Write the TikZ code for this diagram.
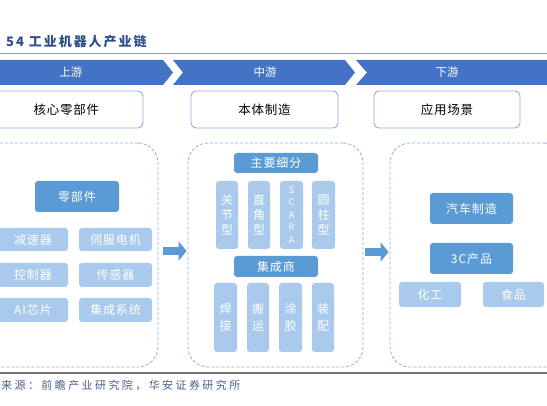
\documentclass[tikz,border=0pt]{standalone}
\usepackage{fontspec}
\setmainfont{Noto Sans CJK SC}
\usetikzlibrary{arrows.meta}
\definecolor{banner}{HTML}{4472C4}
\definecolor{dk}{HTML}{5B9BD5}
\definecolor{lt}{HTML}{A9CAEC}
\definecolor{frame}{HTML}{8FAADC}
\definecolor{titlec}{HTML}{2E4E8A}
\definecolor{srcc}{HTML}{4A5F88}
\tikzset{
  dkbox/.style={fill=dk, rounded corners=3pt, text=white, inner sep=0pt, font=\fontsize{12}{14}\selectfont\addfontfeature{LetterSpace=8}},
  ltbox/.style={fill=lt, rounded corners=3pt, text=white, inner sep=0pt, font=\fontsize{12}{14}\selectfont\addfontfeature{LetterSpace=8}},
  topbox/.style={draw=frame, line width=0.9pt, fill=white, rounded corners=5pt, inner sep=0pt, font=\fontsize{12.5}{14}\selectfont\addfontfeature{LetterSpace=6}},
  container/.style={draw=frame, line width=0.8pt, dash pattern=on 3pt off 2pt, rounded corners=20pt},
  bannertext/.style={text=white, font=\fontsize{11.5}{13}\selectfont},
  blockarrow/.style={draw=dk, line width=8pt, -{Triangle[length=8pt,width=19pt]}},
}
\begin{document}
\begin{tikzpicture}[x=1pt,y=-1pt]
\useasboundingbox (0,0) rectangle (547,406);
\clip (0,0) rectangle (547,406);
% title
\node[anchor=west, text=titlec, font=\fontsize{13}{15}\selectfont\bfseries\addfontfeature{LetterSpace=15}, inner sep=0pt] (title) at (6,42) {54 工业机器人产业链};
\draw[gray!80, line width=0.8pt] (0,53) coordinate (tl1) -- (547,53) coordinate (tl2);
% banner
\fill[banner] (-5,60) -- (163,60) -- (173,72.5) -- (163,85) -- (-5,85) -- cycle;
\fill[banner] (173,60) -- (345,60) -- (355,72.5) -- (345,85) -- (173,85) -- (183,72.5) -- cycle;
\fill[banner] (356,60) -- (560,60) -- (560,85) -- (356,85) -- (367,72.5) -- cycle;
\node[bannertext] (up) at (71,72.5) {上游};
\node[bannertext] (mid) at (265,72.5) {中游};
\node[bannertext] (down) at (447,72.5) {下游};
% top boxes
\node[topbox, minimum width=153pt, minimum height=37pt] (hx) at (66.5,109.5) {核心零部件};
\node[topbox, minimum width=147pt, minimum height=37pt] (bt) at (264.5,109.5) {本体制造};
\node[topbox, minimum width=146pt, minimum height=37pt] (yy) at (447,109.5) {应用场景};
% containers
\node[container, minimum width=190pt, minimum height=224pt] (L) at (63,255) {};
\node[container, minimum width=175pt, minimum height=224pt] (M) at (275.5,255) {};
\node[container, minimum width=175pt, minimum height=224pt] (R) at (477.5,255) {};
% left contents
\node[dkbox, minimum width=84pt, minimum height=31pt] (lbj) at (77,196.5) {零部件};
\node[ltbox, minimum width=70pt, minimum height=23pt] (jsq) at (33,239.5) {减速器};
\node[ltbox, minimum width=73pt, minimum height=23pt] (sf) at (115.5,239.5) {伺服电机};
\node[ltbox, minimum width=70pt, minimum height=24pt] (kz) at (33,275) {控制器};
\node[ltbox, minimum width=73pt, minimum height=24pt] (cg) at (115.5,275) {传感器};
\node[ltbox, minimum width=70pt, minimum height=24pt] (ai) at (33,310) {AI芯片};
\node[ltbox, minimum width=73pt, minimum height=24pt] (jc) at (115.5,310) {集成系统};
% middle contents
\node[dkbox, minimum width=84pt, minimum height=20pt] (zy) at (276,163) {主要细分};
\node[ltbox, minimum width=22pt, minimum height=68pt, align=center, font=\fontsize{12}{15}\selectfont] (gj) at (227,215) {关\\节\\型};
\node[ltbox, minimum width=22pt, minimum height=68pt, align=center, font=\fontsize{12}{15}\selectfont] (zj) at (259,215) {直\\角\\型};
\node[ltbox, minimum width=23pt, minimum height=68pt, align=center, font=\fontsize{9}{12.5}\selectfont] (sc) at (291.5,215) {S\\C\\A\\R\\A};
\node[ltbox, minimum width=23pt, minimum height=68pt, align=center, font=\fontsize{12}{15}\selectfont] (yz) at (323.5,215) {圆\\柱\\型};
\node[dkbox, minimum width=84pt, minimum height=21pt] (jcs) at (276,266.5) {集成商};
\node[ltbox, minimum width=23pt, minimum height=69pt, align=center, font=\fontsize{12}{17}\selectfont] (hj) at (225.5,317.5) {焊\\接};
\node[ltbox, minimum width=22pt, minimum height=69pt, align=center, font=\fontsize{12}{17}\selectfont] (by) at (258,317.5) {搬\\运};
\node[ltbox, minimum width=23pt, minimum height=69pt, align=center, font=\fontsize{12}{17}\selectfont] (tj) at (290.5,317.5) {涂\\胶};
\node[ltbox, minimum width=22pt, minimum height=69pt, align=center, font=\fontsize{12}{17}\selectfont] (zp) at (323,317.5) {装\\配};
% right contents
\node[dkbox, minimum width=83pt, minimum height=31pt] (qc) at (471.5,208.5) {汽车制造};
\node[dkbox, minimum width=83pt, minimum height=31pt] (cp) at (471.5,258.5) {3C产品};
\node[ltbox, minimum width=62pt, minimum height=25pt] (hg) at (430,294.5) {化工};
\node[ltbox, minimum width=61pt, minimum height=25pt] (sp) at (513.5,294.5) {食品};
% arrows
\draw[blockarrow, shorten <=5pt, shorten >=1pt] ([yshift=4pt]L.east) -- ([yshift=4pt]M.west);
\draw[blockarrow, shorten <=2pt, shorten >=1pt] ([yshift=3pt]M.east) -- ([yshift=3pt]R.west);
% bottom
\draw[gray!90!black, line width=1.5pt] (0,373) coordinate (bl1) -- (547,373) coordinate (bl2);
\node[anchor=west, text=srcc, font=\fontsize{11}{13}\selectfont\addfontfeature{LetterSpace=22}, inner sep=0pt] (src) at (1,385) {来源：前瞻产业研究院，华安证券研究所};
\end{tikzpicture}
\end{document}
